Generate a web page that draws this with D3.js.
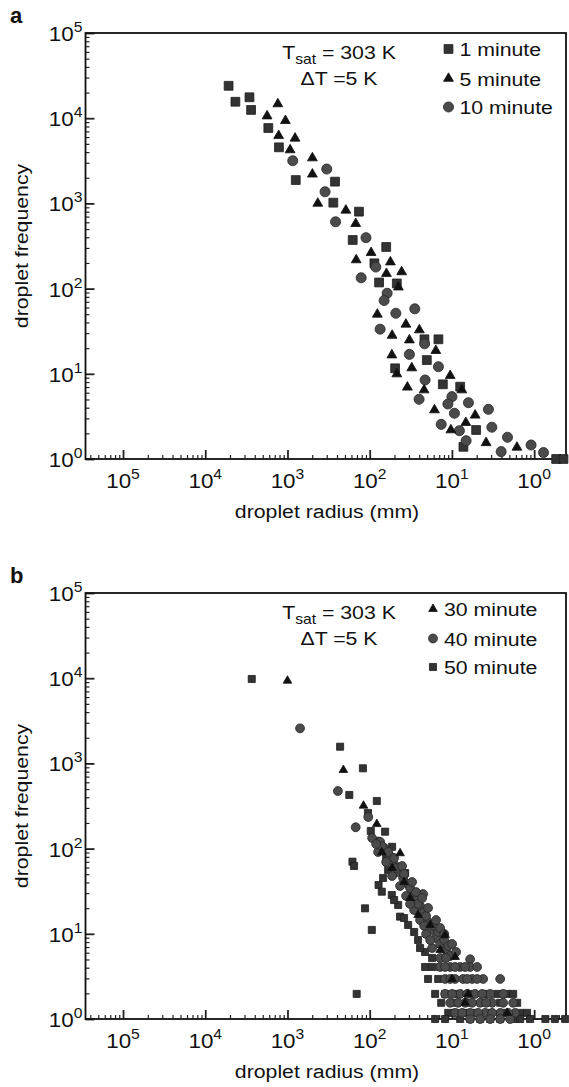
<!DOCTYPE html>
<html>
<head>
<meta charset="utf-8">
<title>Droplet size distribution</title>
<script src="https://d3js.org/d3.v7.min.js"></script>
<style>
  body { margin: 0; background: #fff; }
  svg { display: block; font-family: "Liberation Sans", Arial, sans-serif; }
</style>
</head>
<body>
<div id="chart"></div>
<script>
// axis tick labels (powers of ten)
var xExponents = [5, 4, 3, 2, 1, 0];
var yExponents = [0, 1, 2, 3, 4, 5];
var xDomain = [2.86e5, 0.41];   // x axis runs from large to small radius
var yDomain = [1, 1e5];

// panel a, 1 minute (squares)
var a1Radius = [5200, 4300, 2900, 2770, 1710, 1270, 793, 264, 277, 135, 161, 63, 87.7, 76.9, 46.8, 21.6, 14.6, 20.2, 49.1, 12.9, 7.94, 5.08, 7.25, 0.54, 0.44];
var a1Freq   = [24000, 15600, 17600, 12500, 7670, 4550, 1880, 1800, 1020, 800, 372, 308, 198, 118, 115, 25.4, 25.4, 14.5, 11.6, 7.53, 7.06, 2.19, 1.39, 1, 1];

// panel a, 5 minute (triangles)
var a5Radius = [1310, 1770, 1060, 1280, 809, 929, 498, 498, 428, 195, 148, 96.2, 146, 56, 62.6, 40.9, 44.8, 80.8, 36.3, 24.9, 53.4, 32.9, 15.7, 53.8, 30.8, 46.8, 10.5, 34.8, 21.8, 7.58, 16.3, 5.22, 6.78, 10.3, 3.84, 1.62];
var a5Freq   = [14700, 10600, 9350, 6230, 5810, 4240, 3410, 2200, 1000, 830, 578, 264, 217, 205, 150, 157, 104, 49.9, 38.1, 32.7, 28.2, 24.9, 18.7, 16.6, 11.7, 9.95, 9.5, 6.95, 6.45, 6.45, 3.76, 3.26, 2.67, 2.19, 1.55, 1.37];

// panel a, 10 minute (circles)
var a10Radius = [863, 333, 349, 260, 111, 84.3, 127, 61.4, 66.8, 28.3, 48.1, 74.7, 21.5, 32.9, 14.6, 21.2, 25.1, 10.0, 11.2, 6.30, 3.60, 9.33, 13.5, 3.27, 8.11, 2.11, 6.72, 1.09, 2.52, 0.77];
var a10Freq   = [3170, 2530, 1370, 608, 396, 179, 134, 88.1, 72.5, 57.9, 51.3, 33.4, 22.5, 16.9, 12.1, 8.46, 5.02, 5.39, 4.42, 4.58, 3.83, 3.44, 2.55, 2.36, 2.15, 1.80, 1.64, 1.46, 1.22, 1.19];

// panel b, 30 minute (triangles)
var b30Radius = [1000, 209, 119, 82, 71.3, 42.7, 53.4, 38.2, 32.3, 25.8, 18.4, 12.1, 9.14, 13.9, 6.91, 2.13, 9.95, 6.35];
var b30Freq   = [9350, 837, 319, 194, 90.5, 88.1, 59.2, 40.5, 26.3, 16.6, 12.7, 9.68, 5.34, 6.45, 1.55, 1.18, 2.95, 1.97];

// panel b, 40 minute (circles)
var b40Radius = [703, 244, 104, 148, 78.4, 93.5, 74.7, 66.8, 79, 56.5, 63.1, 50.5, 45.1, 53.4, 39.2, 42.7, 34.1, 30.5, 36.1, 27.3,
                 24.4, 28.8, 21.8, 24.4, 19.5, 17.4, 20.6, 15.6, 13.9, 17.4, 11.8, 10.5, 13.9, 6.01, 22.4,
                 70.7, 47.7, 32.3, 25.8, 20.6, 16.5, 14.7, 12.4, 11.1,
                 83.6, 59.7, 50.5, 40.4, 38.2, 30.5, 27.3, 23.0, 32.3, 19.5, 21.8, 15.6, 13.9, 18.4, 12.4, 9.95, 8.89, 11.8,
                 13.9, 10.5, 7.94, 6.01, 4.94, 12.1, 9.14, 6.91,
                 12.1, 9.14, 7.31, 5.68, 4.17, 2.59, 10.5, 6.53, 4.94,
                 12.1, 7.94, 5.22, 3.43, 2.38, 9.95, 6.53, 4.29,
                 10.5, 6.91, 4.54, 3.24, 1.80, 8.41, 5.68, 3.84, 2.38,
                 9.14, 6.01, 3.95, 2.59, 1.70, 7.51, 4.80, 3.24, 2.07,
                 6.01, 3.43, 1.96, 4.54, 2.59];
var b40Freq   = [2580, 474, 235, 178, 121, 133, 120, 102, 91.2, 81.9, 69.6, 65.9, 53.1, 47.7, 45.2, 36.4, 38.4, 30.9, 27.8, 24.9,
                 21.2, 19.0, 18.0, 14.5, 13.8, 11.1, 9.95, 8.93, 7.59, 6.81, 6.45, 5.49, 5.20, 5.02, 29.3,
                 107, 59.2, 34.5, 22.4, 16.2, 12.4, 10.5, 8.46, 7.19,
                 113, 91.2, 77.6, 62.5, 50.3, 40.5, 30.9, 26.3, 22.4, 20.1, 12.4, 14.5, 11.7, 8.46, 9.95, 7.59, 6.12, 5.20,
                 4.08, 4.08, 4.08, 4.08, 4.08, 4.08, 4.08, 4.08,
                 2.95, 2.95, 2.95, 2.95, 2.95, 2.95, 2.95, 2.95, 2.95,
                 1.97, 1.97, 1.97, 1.97, 1.97, 1.97, 1.97, 1.97,
                 1.55, 1.55, 1.55, 1.55, 1.55, 1.55, 1.55, 1.55, 1.55,
                 1.18, 1.18, 1.18, 1.18, 1.18, 1.18, 1.18, 1.18, 1.18,
                 1, 1, 1, 1, 1];

// panel b, 50 minute (squares)
var b50Radius = [2720, 229, 121, 177, 82, 105, 97, 65, 53.4, 162, 155, 78, 71.3, 53.8, 114, 42.7, 94.3, 144, 59.7, 45.1, 34.1, 25.8, 21.2, 42.7, 37.1,
                 68.7, 50.5, 38.2, 28.8, 24.4, 17.4, 63.1,
                 21.2, 17.4, 13.9, 19.5, 14.7,
                 16.0, 12.1, 2.13, 1.80, 9.14, 6.01, 3.95, 2.82,
                 13.5, 9.14, 1.61, 6.01, 3.95, 2.59,
                 11.1, 1.48, 1.22, 9.14, 6.91, 5.22, 3.43, 2.25,
                 16.0, 7.94, 4.54, 2.59, 1.12, 0.73, 0.56, 0.42, 12.1, 6.01, 3.43, 1.70, 1.48];
var b50Freq   = [9790, 1570, 876, 426, 362, 262, 161, 158, 105, 70.2, 62.5, 37.4, 31.2, 28.5, 19.9, 15.9, 11.1, 1.97, 56.1, 21.8, 12.7, 8.46, 6.12, 56.1, 51.7,
                 45.2, 24.9, 15.3, 10.5, 6.81, 5.20, 77.6,
                 4.08, 4.08, 4.08, 2.95, 2.95,
                 1.97, 1.97, 1.97, 1.97, 1.97, 1.97, 1.97, 1.97,
                 1.55, 1.55, 1.55, 1.55, 1.55, 1.55,
                 1.18, 1.18, 1.18, 1.18, 1.18, 1.18, 1.18, 1.18,
                 1, 1, 1, 1, 1, 1, 1, 1, 1, 1, 1, 1, 1];

var W = 569, H = 1087;
var plot = {left: 85.5, right: 566, top: 33, bottom: 459};
var STRETCH = 1.12;   // the figure's lettering is a little wider than the font

var svg = d3.select("#chart").append("svg")
    .attr("width", W)
    .attr("height", H);
svg.append("rect").attr("width", W).attr("height", H).attr("fill", "#fff");

var x = d3.scaleLog().domain(xDomain).range([plot.left, plot.right]);

function zip(r, f) {
    return r.map(function(v, i) { return {r: v, f: f[i]}; });
}

// text helper: parts are tspans (for superscripts / subscripts)
function addText(g, tx, ty, size, anchor, parts, rotate) {
    var t = g.append("text")
        .attr("transform", "translate(" + tx + "," + ty + ")" + (rotate ? " rotate(-90)" : "") + " scale(" + STRETCH + ",1)")
        .attr("font-size", size)
        .attr("text-anchor", anchor)
        .attr("fill", "#111");
    parts.forEach(function(p) {
        t.append("tspan")
            .attr("font-size", p.size || size)
            .attr("dy", p.dy || 0)
            .text(p.text);
    });
    return t;
}

var symbols = {
    square:   {type: d3.symbolSquare,   fill: "#333", stroke: "#1e1e1e"},
    triangle: {type: d3.symbolTriangle, fill: "#111", stroke: "#111"},
    circle:   {type: d3.symbolCircle,   fill: "#4b4b4b", stroke: "#262626"}
};

function drawPanel(offsetY, letter, series, legendOrder, legendX, sizes) {
    var g = svg.append("g").attr("transform", "translate(0," + offsetY + ")");
    var y = d3.scaleLog().domain(yDomain).range([plot.bottom, plot.top]);

    // minor ticks
    var xMinor = [], yMinor = [];
    for (var e = 0; e <= 6; e++) {
        for (var k = 2; k <= 9; k++) {
            var v = Math.pow(10, e) / k;
            if (v < xDomain[0] && v > xDomain[1]) xMinor.push(v);
            if (e <= 4) yMinor.push(k * Math.pow(10, e));
        }
    }

    var xAxisMinor = g.append("g")
        .attr("transform", "translate(0," + plot.bottom + ")")
        .call(d3.axisBottom(x).tickValues(xMinor).tickSize(-4).tickFormat(""));
    var xAxisMajor = g.append("g")
        .attr("transform", "translate(0," + plot.bottom + ")")
        .call(d3.axisBottom(x).tickValues(xExponents.map(function(d) { return Math.pow(10, d); })).tickSize(-9).tickFormat(""));
    var yAxisMinor = g.append("g")
        .attr("transform", "translate(" + plot.left + ",0)")
        .call(d3.axisLeft(y).tickValues(yMinor).tickSize(-4).tickFormat(""));
    var yAxisMajor = g.append("g")
        .attr("transform", "translate(" + plot.left + ",0)")
        .call(d3.axisLeft(y).tickValues(yExponents.map(function(d) { return Math.pow(10, d); })).tickSize(-9).tickFormat(""));
    [xAxisMinor, xAxisMajor, yAxisMinor, yAxisMajor].forEach(function(a) {
        a.select(".domain").remove();
        a.selectAll("line").attr("stroke", "#222").attr("stroke-width", 1.2);
    });
    xAxisMajor.selectAll("line").attr("stroke-width", 1.8);
    yAxisMajor.selectAll("line").attr("stroke-width", 1.8);

    // frame
    g.append("rect")
        .attr("x", plot.left).attr("y", plot.top)
        .attr("width", plot.right - plot.left)
        .attr("height", plot.bottom - plot.top)
        .attr("fill", "none")
        .attr("stroke", "#111")
        .attr("stroke-width", 1.8);

    // tick labels
    xExponents.forEach(function(d) {
        addText(g, x(Math.pow(10, d)), plot.bottom + 29, 20, "middle",
            [{text: "10"}, {text: String(d), size: 14, dy: -9}]);
    });
    yExponents.forEach(function(d) {
        addText(g, plot.left - 3, y(Math.pow(10, d)) + 8, 20, "end",
            [{text: "10"}, {text: String(d), size: 14, dy: -9}]);
    });

    // axis titles
    addText(g, 327, plot.bottom + 59, 19, "middle", [{text: "droplet radius (mm)"}]);
    addText(g, 28, (plot.top + plot.bottom) / 2, 19, "middle", [{text: "droplet frequency"}], true);

    // panel letter
    g.append("text")
        .attr("x", 10).attr("y", 23)
        .attr("font-size", 22)
        .attr("font-weight", "bold")
        .attr("fill", "#111")
        .text(letter);

    // data
    series.forEach(function(s) {
        var sym = symbols[s.shape];
        g.append("g").selectAll("path")
            .data(zip(s.radius, s.freq))
            .join("path")
            .attr("transform", function(d) { return "translate(" + x(d.r) + "," + y(d.f) + ")"; })
            .attr("d", d3.symbol().type(sym.type).size(sizes[s.shape]))
            .attr("fill", sym.fill)
            .attr("stroke", sym.stroke)
            .attr("stroke-width", 0.8);
    });

    // annotation
    addText(g, 339, 59, 19, "middle",
        [{text: "T"}, {text: "sat", size: 14, dy: 5}, {text: " = 303 K", dy: -5}]);
    addText(g, 339, 85, 19, "middle", [{text: "\u0394T =5 K"}]);

    // legend
    var rows = [49, 78.5, 107];
    legendOrder.forEach(function(s, i) {
        var sym = symbols[s.shape];
        g.append("path")
            .attr("transform", "translate(" + legendX + "," + rows[i] + ")")
            .attr("d", d3.symbol().type(sym.type).size(sizes[s.shape]))
            .attr("fill", sym.fill)
            .attr("stroke", sym.stroke)
            .attr("stroke-width", 0.8);
        addText(g, legendX + 11, rows[i] + 7, 19, "start", [{text: s.name}]);
    });
}

var seriesA = {
    m1:  {name: "1 minute",  shape: "square",   radius: a1Radius,  freq: a1Freq},
    m5:  {name: "5 minute",  shape: "triangle", radius: a5Radius,  freq: a5Freq},
    m10: {name: "10 minute", shape: "circle",   radius: a10Radius, freq: a10Freq}
};
var seriesB = {
    m30: {name: "30 minute", shape: "triangle", radius: b30Radius, freq: b30Freq},
    m40: {name: "40 minute", shape: "circle",   radius: b40Radius, freq: b40Freq},
    m50: {name: "50 minute", shape: "square",   radius: b50Radius, freq: b50Freq}
};

drawPanel(0, "a",
    [seriesA.m1, seriesA.m10, seriesA.m5],
    [seriesA.m1, seriesA.m5, seriesA.m10],
    448.5, {square: 78, triangle: 42, circle: 80});

drawPanel(560, "b",
    [seriesB.m50, seriesB.m40, seriesB.m30],
    [seriesB.m30, seriesB.m40, seriesB.m50],
    433, {square: 50, triangle: 32, circle: 62});
</script>
</body>
</html>
